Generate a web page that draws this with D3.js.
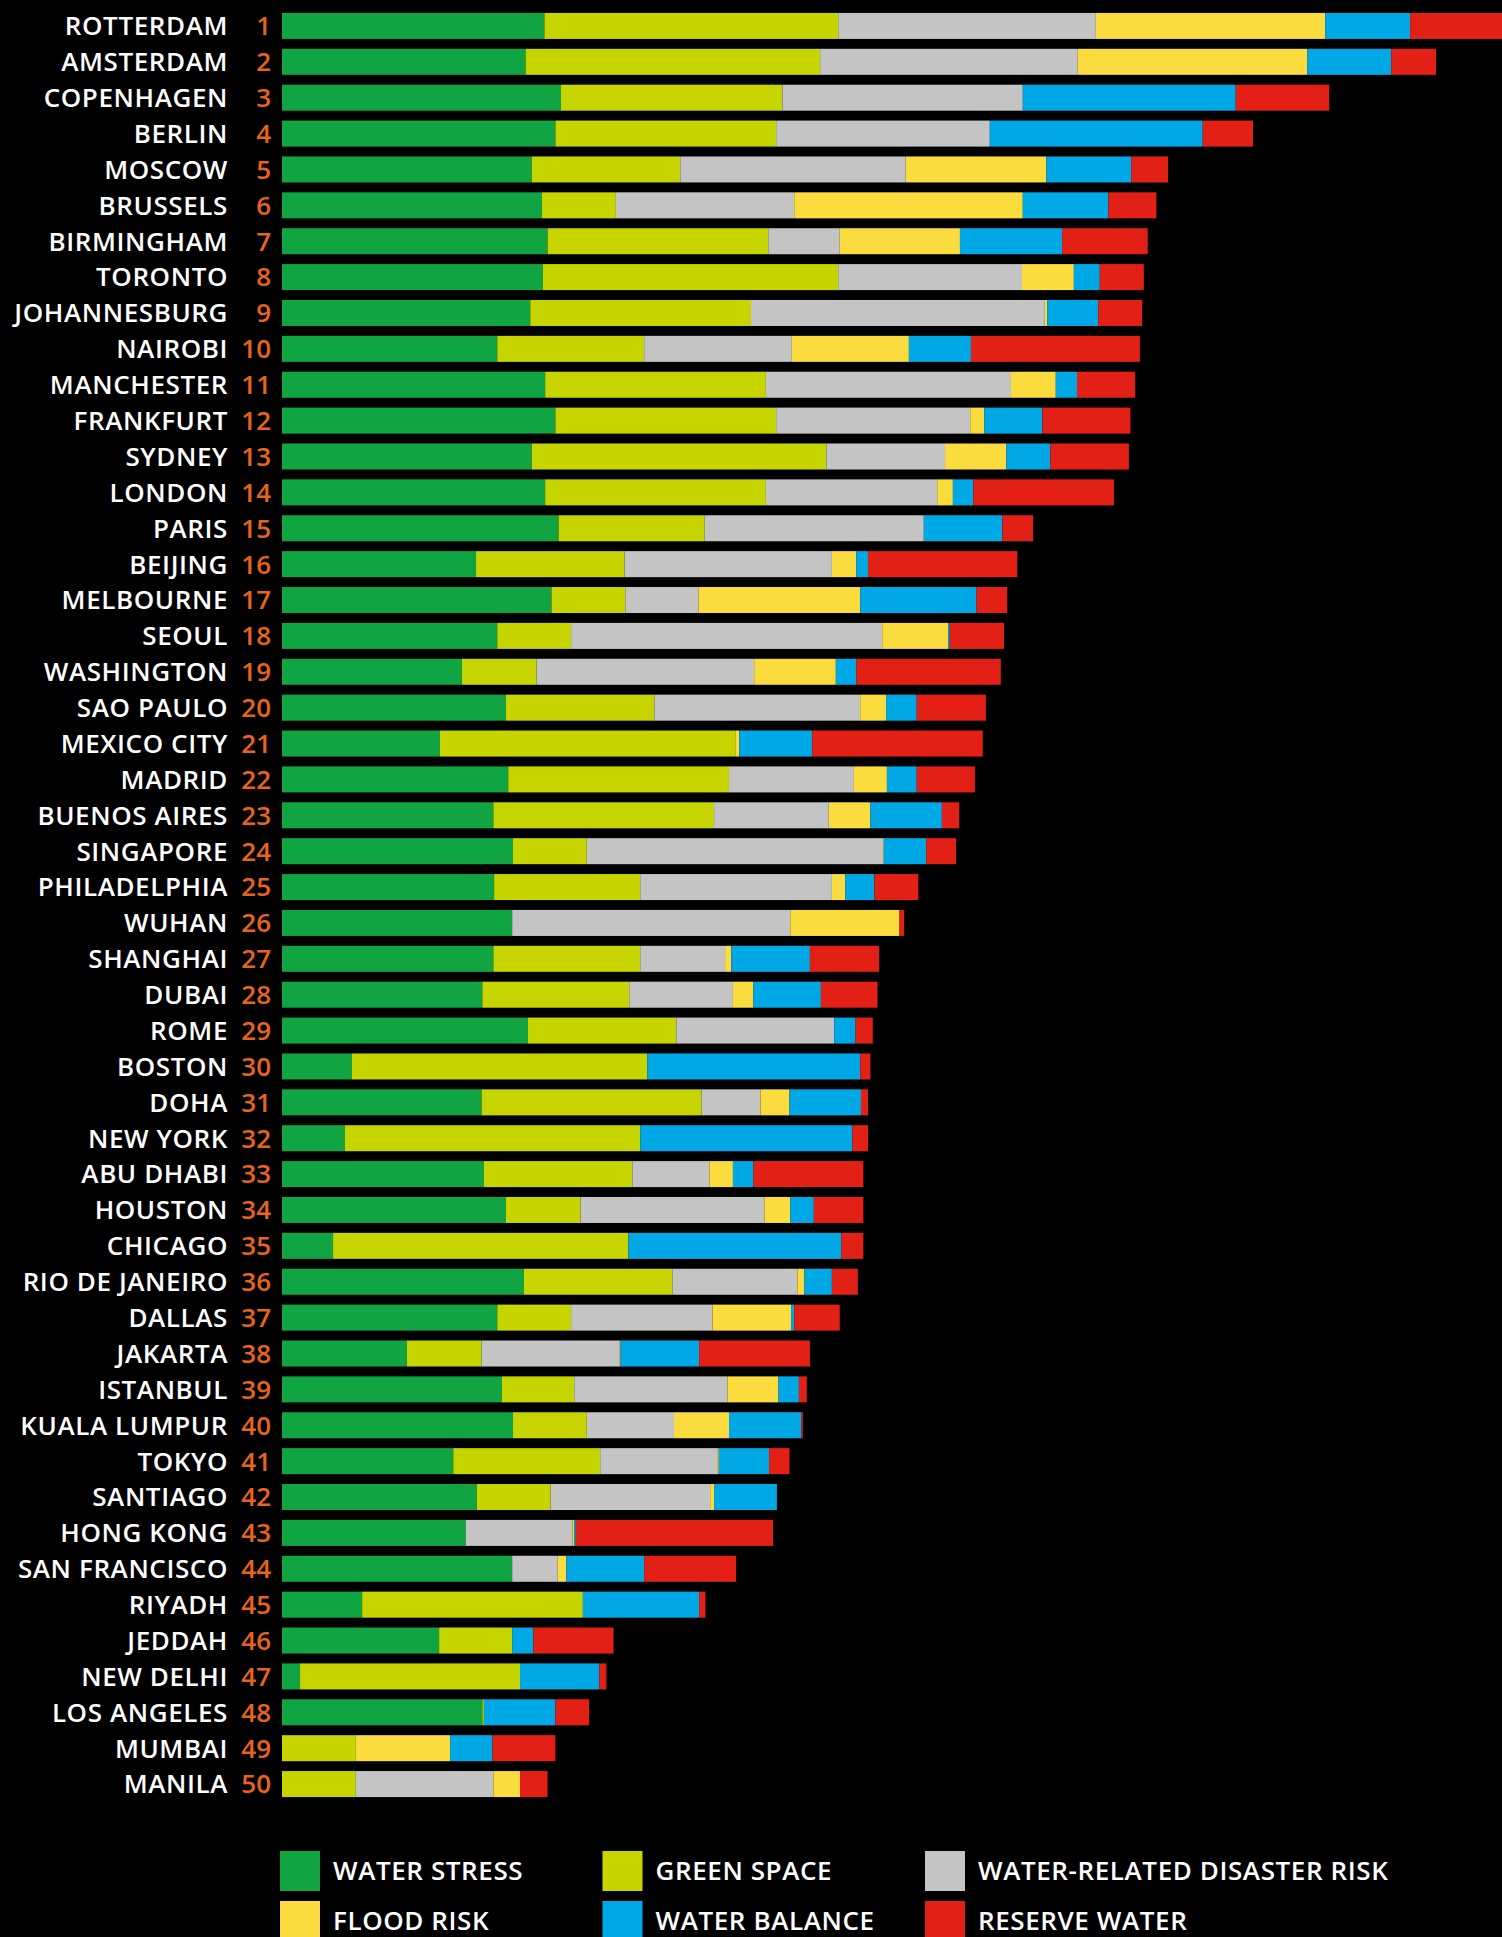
<!DOCTYPE html>
<html>
<head>
<meta charset="utf-8">
<script src="https://cdn.jsdelivr.net/npm/d3@7"></script>
<style>
  html, body { margin: 0; padding: 0; background: #000; }
  svg { display: block; }
  text { font-family: "Open Sans", sans-serif; }
</style>
</head>
<body>
<svg width="1502" height="1937"></svg>
<script>

var cities = ["ROTTERDAM", "AMSTERDAM", "COPENHAGEN", "BERLIN", "MOSCOW", "BRUSSELS", "BIRMINGHAM", "TORONTO",
  "JOHANNESBURG", "NAIROBI", "MANCHESTER", "FRANKFURT", "SYDNEY", "LONDON", "PARIS", "BEIJING", "MELBOURNE",
  "SEOUL", "WASHINGTON", "SAO PAULO", "MEXICO CITY", "MADRID", "BUENOS AIRES", "SINGAPORE", "PHILADELPHIA",
  "WUHAN", "SHANGHAI", "DUBAI", "ROME", "BOSTON", "DOHA", "NEW YORK", "ABU DHABI", "HOUSTON", "CHICAGO",
  "RIO DE JANEIRO", "DALLAS", "JAKARTA", "ISTANBUL", "KUALA LUMPUR", "TOKYO", "SANTIAGO", "HONG KONG",
  "SAN FRANCISCO", "RIYADH", "JEDDAH", "NEW DELHI", "LOS ANGELES", "MUMBAI", "MANILA"];

var waterStress = [334, 310, 355, 348, 318, 331, 338, 332, 316, 274, 335, 348, 318, 335, 352, 247, 343, 274, 229, 285,
  201, 288, 269, 294, 270, 293, 269, 255, 313, 89, 254, 80, 257, 285, 65, 308, 274, 159, 280, 294,
  218, 248, 234, 293, 102, 200, 23, 255, 0, 0];
var greenSpace = [374, 375, 282, 281, 189, 94, 281, 376, 281, 187, 281, 281, 375, 281, 186, 189, 94, 94, 95, 189,
  376, 281, 281, 94, 186, 0, 187, 187, 189, 376, 280, 376, 189, 95, 376, 189, 94, 95, 92, 94,
  187, 94, 0, 0, 281, 93, 280, 2, 94, 94];
var disasterRisk = [328, 328, 306, 272, 287, 227, 91, 234, 374, 188, 312, 247, 151, 218, 279, 264, 93, 396, 277, 262,
  0, 159, 146, 377, 244, 354, 108, 132, 201, 0, 75, 0, 98, 234, 0, 159, 180, 176, 195, 111,
  149, 203, 136, 58, 0, 0, 0, 0, 0, 175];
var floodRisk = [292, 292, 0, 0, 179, 291, 153, 66, 3, 149, 57, 18, 78, 20, 0, 31, 206, 84, 104, 33,
  5, 42, 53, 1, 17, 139, 8, 26, 0, 0, 37, 0, 30, 33, 0, 9, 100, 1, 65, 70,
  2, 5, 2, 11, 0, 0, 0, 0, 120, 34];
var waterBalance = [108, 107, 271, 271, 108, 109, 130, 33, 65, 79, 27, 74, 56, 26, 100, 15, 148, 2, 26, 39,
  93, 38, 91, 54, 37, 0, 100, 86, 27, 271, 91, 270, 26, 30, 271, 35, 4, 100, 26, 92,
  64, 80, 2, 99, 148, 27, 101, 91, 54, 0];
var reserveWater = [117, 57, 119, 64, 47, 61, 109, 56, 56, 215, 74, 112, 100, 179, 39, 190, 39, 69, 184, 88,
  217, 74, 22, 38, 56, 6, 88, 72, 22, 13, 9, 20, 140, 63, 28, 33, 58, 141, 10, 2,
  26, 0, 251, 117, 8, 102, 9, 43, 80, 35];

var keys = ["WATER STRESS", "GREEN SPACE", "WATER-RELATED DISASTER RISK", "FLOOD RISK", "WATER BALANCE", "RESERVE WATER"];
var colors = ["#11a443", "#c6d400", "#c4c4c4", "#fadc3e", "#00a9e5", "#e32016"];

// one row per city for d3.stack
var series = [waterStress, greenSpace, disasterRisk, floodRisk, waterBalance, reserveWater];
var rows = cities.map(function(c, i) {
  var r = { city: c, rank: i + 1 };
  keys.forEach(function(k, j) { r[k] = series[j][i]; });
  return r;
});

var svg = d3.select("svg");

var x = d3.scaleLinear()
    .domain([0, 1553])
    .range([282, 1502]);

var y = d3.scaleBand()
    .domain(cities)
    .range([8, 1802])
    .paddingInner(0.275)
    .paddingOuter(0.1375);

var color = d3.scaleOrdinal().domain(keys).range(colors);

var stacked = d3.stack().keys(keys)(rows);

/*  Bars  */
svg.append("g")
  .selectAll("g")
  .data(stacked)
  .join("g")
    .attr("fill", function(d) { return color(d.key); })
  .selectAll("rect")
  .data(function(d) { return d; })
  .join("rect")
    .attr("x", function(d) { return x(d[0]); })
    .attr("y", function(d) { return y(d.data.city); })
    .attr("width", function(d) { return Math.max(0, x(d[1]) - x(d[0])); })
    .attr("height", y.bandwidth());

/*  Labels  */
var labels = svg.append("g")
  .selectAll("g")
  .data(rows)
  .join("g")
    .attr("transform", function(d) { return "translate(0," + (y(d.city) + y.bandwidth() / 2) + ")"; });

labels.append("text")
    .attr("x", 228)
    .attr("dy", "0.36em")
    .attr("text-anchor", "end")
    .attr("fill", "#fff")
    .style("font-size", "26px")
    .style("font-weight", 600)
    .style("letter-spacing", "0.6px")
    .text(function(d) { return d.city; });

labels.append("text")
    .attr("x", 271)
    .attr("dy", "0.36em")
    .attr("text-anchor", "end")
    .attr("fill", "#e8641c")
    .style("font-size", "26px")
    .style("font-weight", 600)
    .text(function(d) { return d.rank; });

/*  Legend  */
var lx = d3.scalePoint().domain([0, 1, 2]).range([280, 925]);
var legend = svg.append("g")
  .selectAll("g")
  .data(keys)
  .join("g")
    .attr("transform", function(d, i) { return "translate(" + lx(i % 3) + "," + (1851 + Math.floor(i / 3) * 50) + ")"; });

legend.append("rect")
    .attr("width", 40)
    .attr("height", 40)
    .attr("fill", function(d) { return color(d); });

legend.append("text")
    .attr("x", 53)
    .attr("y", 20)
    .attr("dy", "0.36em")
    .attr("fill", "#fff")
    .style("font-size", "26px")
    .style("font-weight", 600)
    .style("letter-spacing", "0.6px")
    .text(function(d) { return d; });

</script>
</body>
</html>
